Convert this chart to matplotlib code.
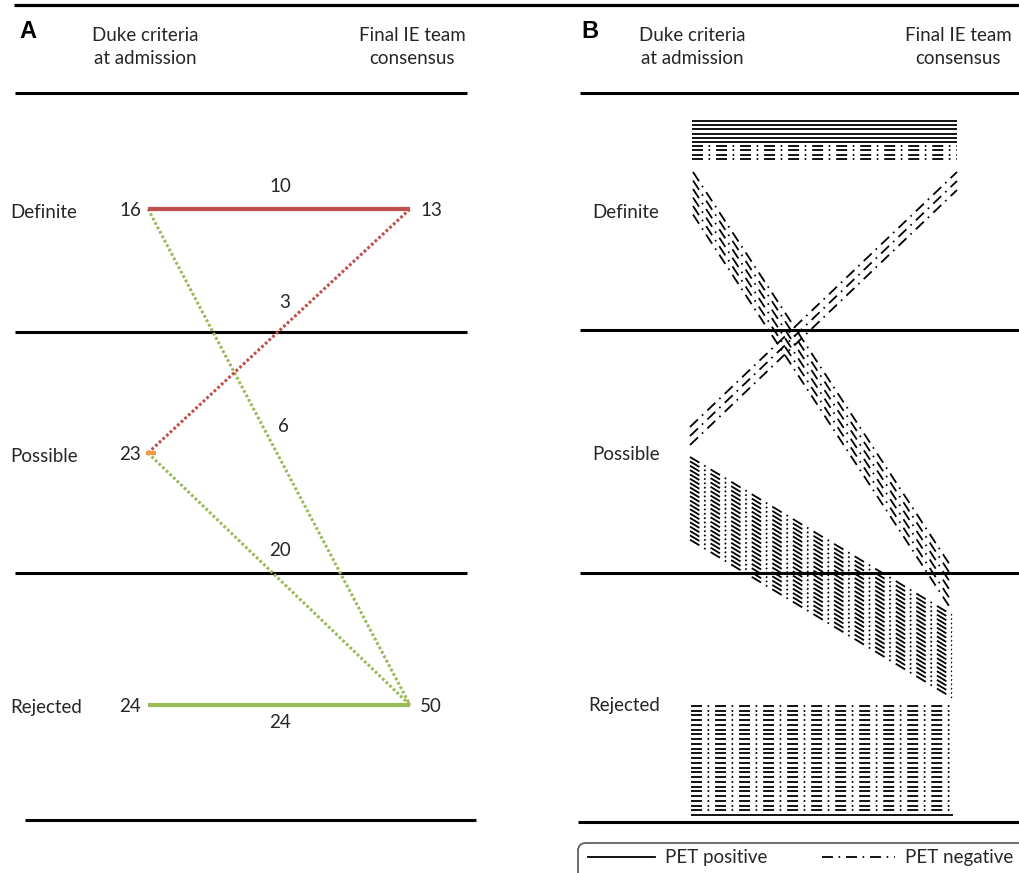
import numpy as np
import matplotlib.pyplot as plt
from matplotlib.patches import FancyBboxPatch

plt.rcParams['font.family'] = ['Lato', 'DejaVu Sans']
plt.rcParams['lines.scale_dashes'] = False

# ---- data -------------------------------------------------------------
categories = ['Definite', 'Possible', 'Rejected']
duke_n = [16, 23, 24]          # Duke criteria at admission
final_n = [13, None, 50]       # final IE team consensus
flow_from = ['Definite', 'Definite', 'Possible', 'Possible', 'Rejected']
flow_to = ['Definite', 'Rejected', 'Definite', 'Rejected', 'Rejected']
flow_n = [10, 6, 3, 20, 24]
flow_pet_pos = [6, 0, 0, 0, 1]  # PET positive patients per flow

# ---- layout (pixels) --------------------------------------------------
level_y = {'Definite': 209, 'Possible': 453, 'Rejected': 705}
label_y_B = {'Definite': 213, 'Possible': 455, 'Rejected': 705}
xa_left, xa_right = 148, 410
flow_label_xy = [(280, 187), (283, 427), (285, 303), (280, 550), (280, 723)]
# panel B: x_start, x_end, y_left of first line, y_right of first line, step, positives on top
flow_B = [(692, 957, 121, 121, 4.2, True),
          (693, 950, 172, 565, 8.5, True),
          (690, 957, 427, 172, 9.0, True),
          (690, 952, 457, 615, 4.35, True),
          (691, 953, 706, 706, 4.74, False)]
target_col = {'Definite': '#c0504d', 'Rejected': '#9bbb59'}
txt = '#262626'
fs = 13.5
dashdot = (0, (7.9, 4.0, 1.2, 4.2))
dotted = (0, (2.0, 1.6))

fig = plt.figure(figsize=(10.2, 8.73), dpi=100)
ax = fig.add_axes([0, 0, 1, 1])
ax.set_xlim(0, 1020)
ax.set_ylim(873, 0)
ax.axis('off')

ax.plot([14, 1020], [5, 5], color='black', lw=2.3, solid_capstyle='butt')

# separators
for y, x0, x1 in [(93, 15, 467), (332, 15, 467), (573, 15, 467), (820, 25, 476),
                  (93, 580, 1020), (330, 580, 1020), (573, 580, 1020), (822, 578, 1020)]:
    ax.plot([x0, x1], [y, y], color='black', lw=2.2, solid_capstyle='butt')

# headers
for lx, dx, fx, letter in [(28, 145, 412, 'A'), (590, 692, 958, 'B')]:
    ax.text(lx, 32, letter, fontsize=17, fontweight='bold', family='Liberation Sans',
            ha='center', va='center', color='black')
    ax.text(dx, 47, 'Duke criteria\nat admission', fontsize=fs, ha='center',
            va='center', color=txt, linespacing=1.4)
    ax.text(fx, 47, 'Final IE team\nconsensus', fontsize=fs, ha='center',
            va='center', color=txt, linespacing=1.4)

# ---- panel A ----------------------------------------------------------
for cat, n0, n1 in zip(categories, duke_n, final_n):
    y = level_y[cat]
    ax.text(10, y + 3, cat, fontsize=fs, ha='left', va='center', color=txt)
    ax.text(130, y + 1, str(n0), fontsize=fs, ha='center', va='center', color=txt)
    if n1 is not None:
        ax.text(431, y + 1, str(n1), fontsize=fs, ha='center', va='center', color=txt)

for f, t, n, (lx, ly) in zip(flow_from, flow_to, flow_n, flow_label_xy):
    same = f == t
    ax.plot([xa_left, xa_right], [level_y[f], level_y[t]], color=target_col[t],
            lw=3 if same else 2.2, ls='-' if same else dotted,
            solid_capstyle='butt', zorder=3 if same else 2)
    ax.text(lx, ly, str(n), fontsize=fs, ha='center', va='center', color=txt)

# possible -> possible (no patients)
ax.plot([xa_left - 2, xa_left + 8], [level_y['Possible']] * 2, color='#f79646',
        lw=3, solid_capstyle='butt', zorder=4)

# ---- panel B ----------------------------------------------------------
for cat in categories:
    ax.text(592 if cat != 'Rejected' else 588, label_y_B[cat], cat, fontsize=fs,
            ha='left', va='center', color=txt)

for n, npos, (x0, x1, yl, yr, step, pos_top) in zip(flow_n, flow_pet_pos, flow_B):
    for i in range(n):
        positive = i < npos if pos_top else i >= n - npos
        ax.plot([x0, x1], [yl + i * step, yr + i * step], color='black', lw=1.3,
                ls='-' if positive else dashdot, solid_capstyle='butt',
                dash_capstyle='butt')

# legend
ax.add_patch(FancyBboxPatch((578, 843), 470, 40,
                            boxstyle='round,pad=0,rounding_size=8',
                            ec='#555555', fc='none', lw=1.2))
ax.plot([588, 655], [857, 857], color='black', lw=1.3)
ax.text(665, 857, 'PET positive', fontsize=fs, ha='left', va='center', color=txt)
ax.plot([822, 895], [857, 857], color='black', lw=1.3, ls=dashdot)
ax.text(905, 857, 'PET negative', fontsize=fs, ha='left', va='center', color=txt)

fig.savefig('out.png', dpi=100)
